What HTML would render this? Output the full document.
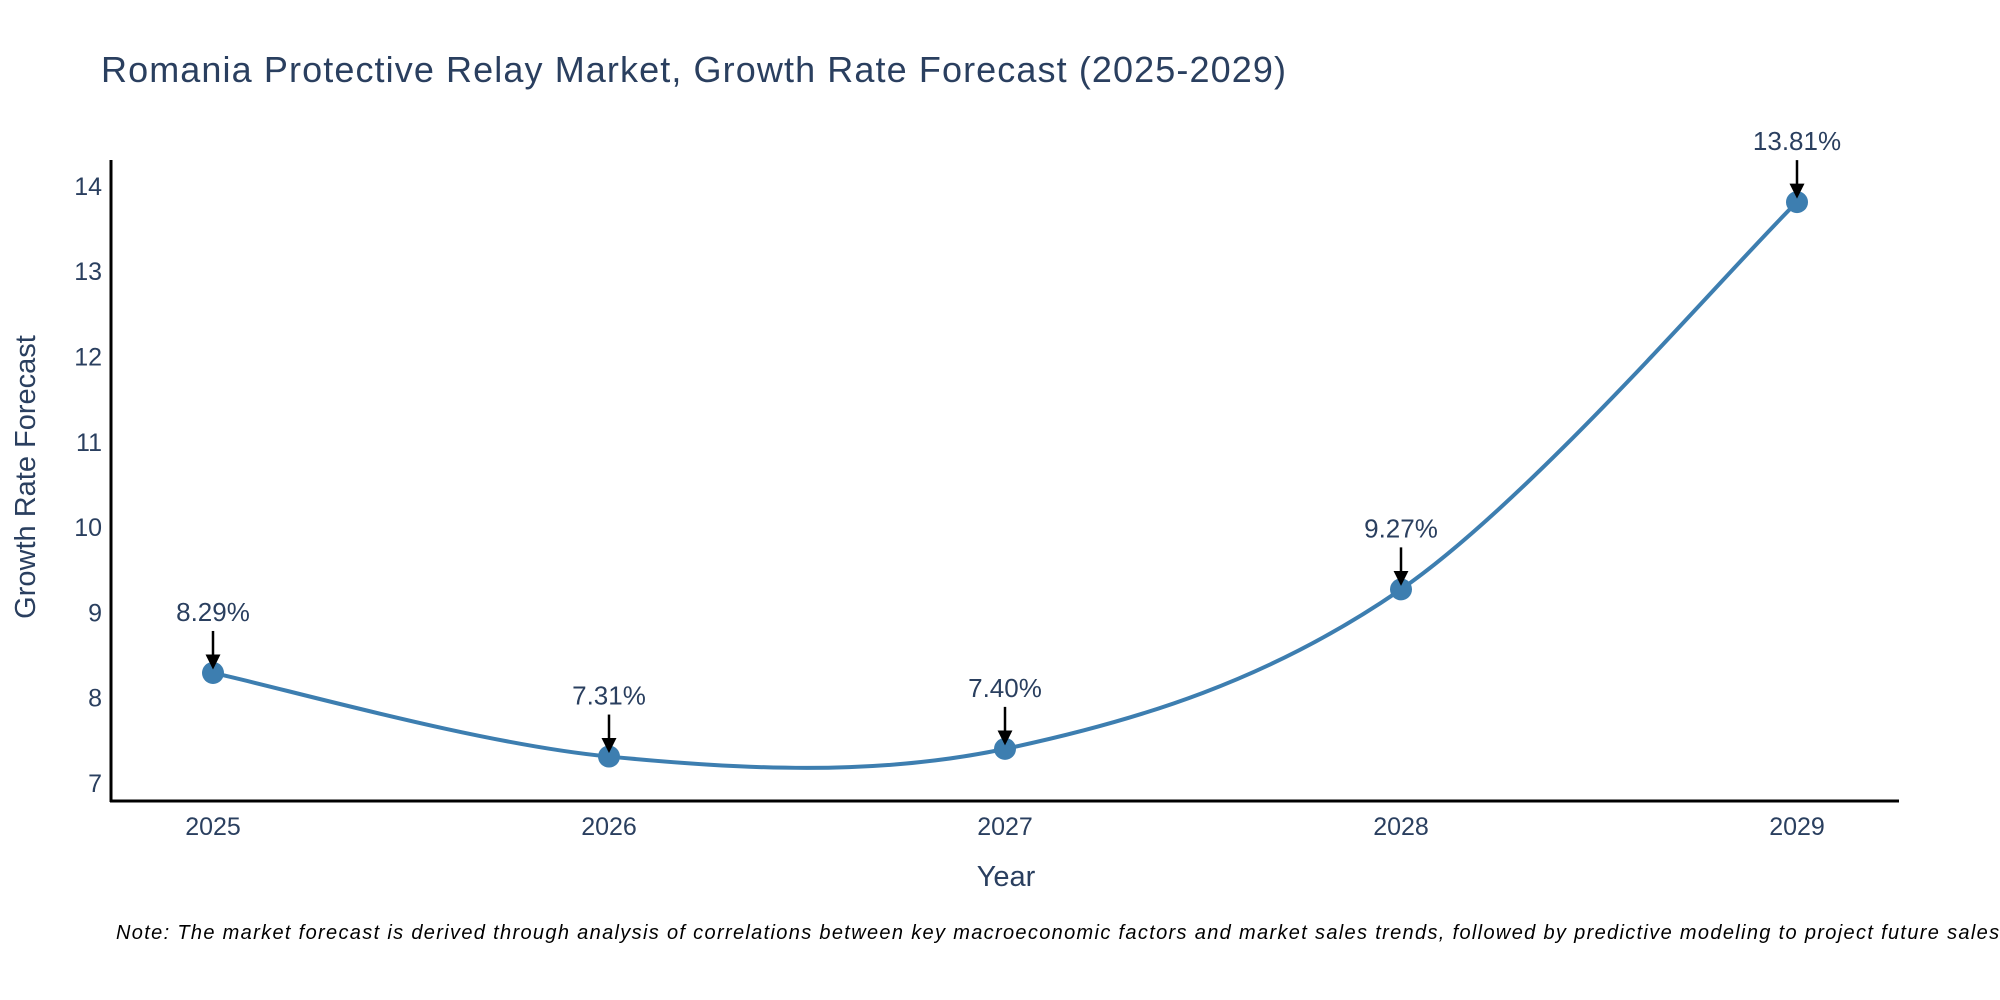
<!DOCTYPE html>
<html><head><meta charset="utf-8"><style>
html,body{margin:0;padding:0;background:#fff;}
svg{display:block;font-family:"Liberation Sans","DejaVu Sans",sans-serif;}
</style></head><body>
<svg id="chart" width="2000" height="1000" viewBox="0 0 2000 1000">
<text x="101" y="82" font-size="36" fill="#2a3f5f" textLength="1185">Romania Protective Relay Market, Growth Rate Forecast (2025-2029)</text>
<g id="plot"></g>
<line x1="111" y1="160" x2="111" y2="802" stroke="#000" stroke-width="3"/>
<line x1="110" y1="801" x2="1899" y2="801" stroke="#000" stroke-width="3"/>
<text x="1006" y="886" font-size="29" fill="#2a3f5f" text-anchor="middle">Year</text>
<text transform="translate(35,477) rotate(-90)" font-size="29" fill="#2a3f5f" text-anchor="middle">Growth Rate Forecast</text>
<text x="116" y="939" font-size="20" font-style="italic" fill="#000" textLength="1890">Note: The market forecast is derived through analysis of correlations between key macroeconomic factors and market sales trends, followed by predictive modeling to project future sales.</text>
</svg>
<script>
const years = [2025, 2026, 2027, 2028, 2029];
const values = [8.29, 7.31, 7.40, 9.27, 13.81];
const valueLabels = ["8.29%", "7.31%", "7.40%", "9.27%", "13.81%"];
const yTicks = [7, 8, 9, 10, 11, 12, 13, 14];

const NS = "http://www.w3.org/2000/svg";
const g = document.getElementById('plot');
const xScale = y => 213 + (y - 2025) * 396;
const yScale = v => 783 - (v - 7) * 85.3;
function mk(tag, attrs, parent) {
  const e = document.createElementNS(NS, tag);
  for (const k in attrs) e.setAttribute(k, attrs[k]);
  (parent || g).appendChild(e);
  return e;
}
yTicks.forEach(t => {
  const e = mk('text', {x: 102, y: yScale(t) + 9, 'font-size': 25, fill: '#2a3f5f', 'text-anchor': 'end'});
  e.textContent = t;
  
  
});
years.forEach(yr => {
  const e = mk('text', {x: xScale(yr), y: 835, 'font-size': 25, fill: '#2a3f5f', 'text-anchor': 'middle'});
  e.textContent = yr;
  
  
});
const pts = years.map((yr, i) => [xScale(yr), yScale(values[i])]);
let d = `M${pts[0][0]},${pts[0][1]}`;
for (let i = 0; i < pts.length - 1; i++) {
  const p0 = pts[i - 1] || pts[i], p1 = pts[i], p2 = pts[i + 1], p3 = pts[i + 2] || p2;
  const c1 = [p1[0] + (p2[0] - p0[0]) / 6, p1[1] + (p2[1] - p0[1]) / 6];
  const c2 = [p2[0] - (p3[0] - p1[0]) / 6, p2[1] - (p3[1] - p1[1]) / 6];
  d += ` C${c1[0]},${c1[1]} ${c2[0]},${c2[1]} ${p2[0]},${p2[1]}`;
}
const line = mk('path', {d: d, fill: 'none', stroke: '#3d7eb0', 'stroke-width': 4});


const defs = mk('defs', {}, document.getElementById('chart'));
const marker = mk('marker', {id: 'ah', markerWidth: 6, markerHeight: 6, refX: 5, refY: 3, orient: 'auto', markerUnits: 'strokeWidth'}, defs);
mk('path', {d: 'M0,0 L6,3 L0,6 Z', fill: '#000'}, marker);
pts.forEach((p, i) => {
  const c = mk('circle', {cx: p[0], cy: p[1], r: 11, fill: '#3d7eb0'});
  
  
  const a = mk('line', {x1: p[0], y1: p[1] - 42, x2: p[0], y2: p[1] - 6, stroke: '#000', 'stroke-width': 2.5, 'marker-end': 'url(#ah)'});
  
  
  const l = mk('text', {x: p[0], y: p[1] - 52, 'font-size': 26, fill: '#2a3f5f', 'text-anchor': 'middle'});
  l.textContent = valueLabels[i];
  
  
});
</script>
</body></html>
